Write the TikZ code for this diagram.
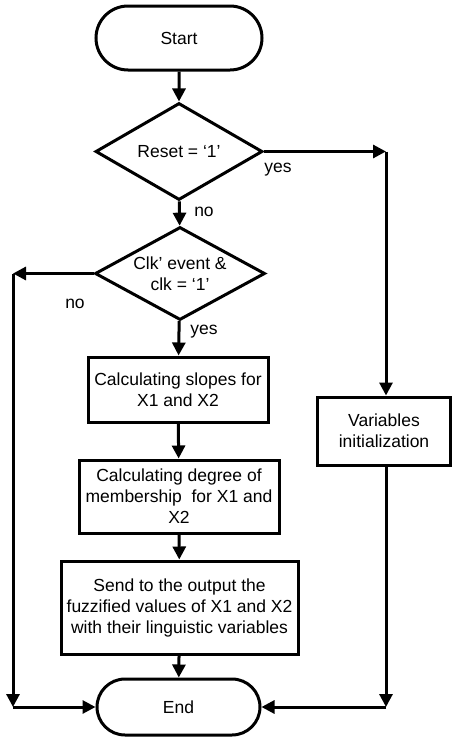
\documentclass[tikz,border=0pt]{standalone}
\usepackage{fontspec}
\setmainfont{Liberation Sans}
\usetikzlibrary{shapes.geometric,shapes.misc,arrows.meta}

\tikzset{
  base/.style={draw=black, line width=3pt, align=center, inner sep=0pt,
    font=\fontsize{17.5}{21}\selectfont},
  terminal/.style={base, rounded rectangle, minimum width=166pt, minimum height=#1},
  decision/.style={base, diamond, minimum width=#1},
  process/.style={base, rectangle, minimum width=#1},
  flow/.style={line width=3pt, -{Triangle[length=13pt,width=13pt]}},
  lbl/.style={font=\fontsize{17.5}{21}\selectfont, inner sep=0pt},
}

\begin{document}
\begin{tikzpicture}[x=1pt, y=-1pt]
  \useasboundingbox (0,0) rectangle (451,739);

  % main column
  \node[terminal=64pt] (start) at (179,38) {Start};
  \node[decision=167pt, minimum height=97pt, shape aspect=1.72] (reset) at (179,151.5)
    {Reset = ‘1’};
  \node[decision=170pt, minimum height=93pt, shape aspect=1.83] (clk) at (180,273.5)
    {Clk’ event \&\\clk = ‘1’};
  \node[process=180pt, minimum height=65pt] (slopes) at (178,389.5)
    {Calculating slopes for\\X1 and X2};
  \node[process=200pt, minimum height=73pt] (degree) at (179,496.5)
    {Calculating degree of\\membership\ \ for X1 and\\X2};
  \node[process=237pt, minimum height=93pt] (send) at (179.5,607.5)
    {Send to the output the\\fuzzified values of X1 and X2\\with their linguistic variables};
  \node[terminal=56pt, minimum width=163pt] (end) at (178.5,707) {End};

  % reset branch
  \node[process=133pt, minimum height=68pt] (init) at (384,431)
    {Variables\\initialization};

  % routing corners
  \coordinate (rtop) at (386,151.5);
  \coordinate (rbot) at (386,707);
  \coordinate (ltop) at (13,273.5);
  \coordinate (lbot) at (13,707);

  % connectors
  \draw[flow] (start) -- (reset);
  \draw[flow] (reset) -- (clk);
  \draw[flow] (clk) -- (slopes);
  \draw[flow] (slopes) -- (degree);
  \draw[flow] (degree) -- (send);
  \draw[flow] (send) -- (end);

  \draw[flow] (reset.east) -- (rtop);
  \draw[flow] (rtop) -- (init.north -| rtop);
  \draw[flow] (init.south -| rbot) -- (rbot);
  \draw[flow] (rbot) -- (end.east);

  \draw[flow] (clk.west) -- (ltop);
  \draw[flow] (ltop) -- (lbot);
  \draw[flow] (lbot) -- (end.west);

  % branch labels
  \node[lbl] (yes1) at (278,170) {yes};
  \node[lbl] (no1) at (204,212) {no};
  \node[lbl] (no2) at (75,304) {no};
  \node[lbl] (yes2) at (204,332) {yes};
\end{tikzpicture}
\end{document}
